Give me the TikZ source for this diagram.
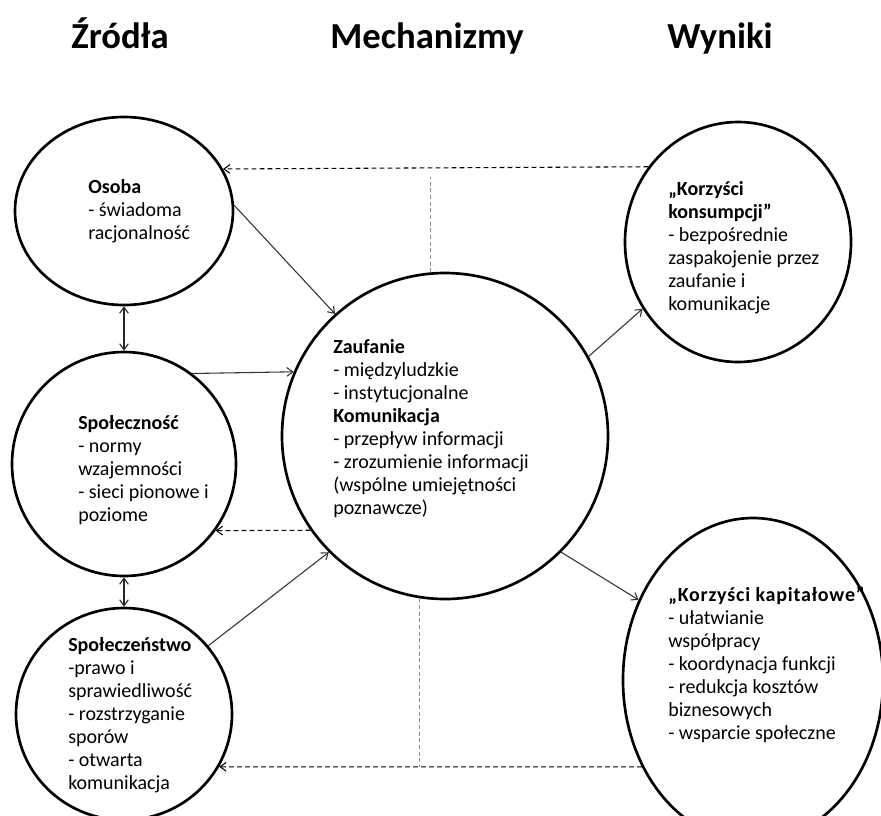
\documentclass[tikz,border=0pt]{standalone}
\usepackage{fontspec}
\setmainfont{Carlito}
\usetikzlibrary{shapes.geometric,arrows.meta}
\begin{document}
\begin{tikzpicture}[x=0.75pt,y=-0.75pt,
  blob/.style 2 args={ellipse,draw=black,line width=2pt,
    minimum width=#1*1.5pt,minimum height=#2*1.5pt,inner sep=0pt},
  body/.style={font=\fontsize{15pt}{17.25pt}\selectfont,align=left,
    anchor=north west,inner sep=0pt},
  head/.style={font=\fontsize{27.5pt}{33pt}\selectfont\bfseries,
    anchor=base,inner sep=0pt},
  tip/.tip={Straight Barb[length=4.5pt,width=6.5pt]},
  link/.style={draw=black!80,line width=0.8pt,-tip},
  twoway/.style={draw=black!85,line width=0.8pt,tip-tip},
  back/.style={draw=black,line width=0.8pt,dash pattern=on 3.5pt off 2.5pt,-tip},
  guide/.style={draw=black!45,line width=0.5pt,dash pattern=on 3pt off 2pt}]

\useasboundingbox (0,0) rectangle (881,815);
\fill[white] (0,0) rectangle (881,815);

% column headings
\node[head] (hsrc) at (120,48) {Źródła};
\node[head] (hmech) at (427,48) {Mechanizmy};
\node[head] (hres) at (720,48) {Wyniki};

% circles
\node[blob={109}{94}]   (osoba)   at (124,211) {};
\node[blob={112}{112}]  (spolecz) at (124,464) {};
\node[blob={108}{106}]  (spolst)  at (124,714) {};
\node[blob={163}{163}]  (central) at (445,436) {};
\node[blob={113}{120}]  (konsum)  at (738,242) {};
\node[blob={130}{162}]  (kapital) at (753,680) {};

% circle contents
\node[body] (tosoba) at (88,179)
  {\textbf{Osoba}\\- świadoma\\racjonalność};
\node[body] (tspolecz) at (78,415)
  {\textbf{Społeczność}\\- normy\\wzajemności\\- sieci pionowe i\\poziome};
\node[body] (tspolst) at (68,637)
  {\textbf{Społeczeństwo}\\-prawo i\\sprawiedliwość\\- rozstrzyganie\\sporów\\- otwarta\\komunikacja};
\node[body] (tcentral) at (333,339)
  {\textbf{Zaufanie}\\- międzyludzkie\\- instytucjonalne\\\textbf{Komunikacja}\\- przepływ informacji\\- zrozumienie informacji\\(wspólne umiejętności\\poznawcze)};
\node[body] (tkonsum) at (668,181)
  {\textbf{„Korzyści}\\\textbf{konsumpcji”}\\- bezpośrednie\\zaspakojenie przez\\zaufanie i\\komunikacje};
\node[body] (tkapital) at (668,587)
  {\textbf{\addfontfeature{LetterSpace=4}„Korzyści kapitałowe”}\\- ułatwianie\\współpracy\\- koordynacja funkcji\\- redukcja kosztów\\biznesowych\\- wsparcie społeczne};

% forward links
\draw[link] (osoba.3) -- (central.132);
\draw[twoway] (osoba.south) -- (spolecz.north);
\draw[link] (spolecz.53.5) -- (central.157.6);
\draw[twoway] (spolecz.south) -- (spolst.north);
\draw[link] (spolst.39.3) -- (central.225.5);
\draw[link] (central.29) -- (konsum.215);
\draw[link] (central.-45) -- (kapital.145.3);

% feedback loops
\draw[back] (central.215.2) -- (spolecz.-36.1);
\draw[back] (konsum.140.2) -- (osoba.23.9);
\draw[back] (kapital.218.4) -- (spolst.-29.5);
\coordinate (topjoin) at (430,177);
\draw[guide] (central.95.3) -- (central.95.3 |- topjoin);
\draw[guide] (central.261.2) -- (central.261.2 |- spolst.-29.5);
\end{tikzpicture}
\end{document}
